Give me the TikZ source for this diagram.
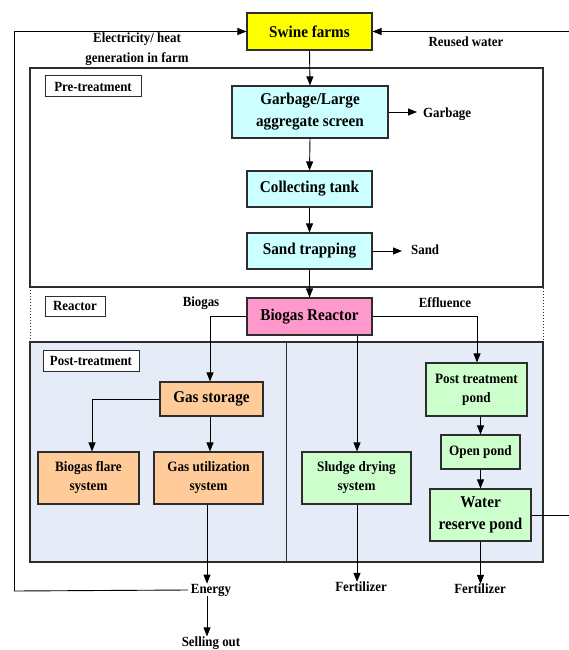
\documentclass[tikz,border=0pt]{standalone}
\usepackage{fontspec}
\setmainfont{Liberation Serif}[FakeStretch=0.92]
\usetikzlibrary{arrows.meta}
\definecolor{boxline}{RGB}{45,45,45}
\definecolor{swinefill}{RGB}{255,255,0}
\definecolor{cyanfill}{RGB}{204,255,255}
\definecolor{pinkfill}{RGB}{255,153,204}
\definecolor{orangefill}{RGB}{255,204,153}
\definecolor{greenfill}{RGB}{204,255,204}
\definecolor{postbg}{RGB}{230,236,247}
\begin{document}
\begin{tikzpicture}[x=1pt,y=-1pt,
  big/.style={font=\fontsize{16.5}{22}\selectfont\bfseries},
  small/.style={font=\fontsize{14.3}{19}\selectfont\bfseries},
  lbl/.style={font=\fontsize{14}{20}\selectfont\bfseries, inner sep=0pt, align=center},
  box/.style={draw=boxline, line width=1.1pt, inner sep=0pt, align=center},
  regionlbl/.style={draw=boxline, fill=white, line width=1pt, inner sep=0pt, font=\fontsize{14}{18}\selectfont\bfseries},
  region/.style={draw=boxline, line width=1.1pt},
  conn/.style={line width=0.9pt, black},
  arr/.style={conn, -{Triangle[length=9pt,width=7pt]}}
]
\useasboundingbox (0,0) rectangle (568,650);
\fill[white] (0,0) rectangle (568,650);

% regions
\draw[region] (30,68) rectangle (543,287);
\draw[boxline, line width=1pt, dotted] (30,287) rectangle (543,342);
\draw[region, fill=postbg] (30,342) rectangle (543,562);
\draw[boxline, line width=0.9pt] (286,342) -- (286,562);

\node[regionlbl, minimum width=96pt, minimum height=21pt] (prelbl) at (93,86.5) {Pre-treatment};
\node[regionlbl, minimum width=60pt, minimum height=20pt] (reaclbl) at (75,306) {Reactor};
\node[regionlbl, minimum width=96pt, minimum height=21pt] (postlbl) at (91,360.5) {Post-treatment};

% main boxes
\node[box, big, fill=swinefill, minimum width=125pt, minimum height=37pt] (swine) at (309.5,31.5) {Swine farms};
\node[box, big, fill=cyanfill, minimum width=156pt, minimum height=52pt] (garb) at (310,112) {Garbage/Large\\aggregate screen};
\node[box, big, fill=cyanfill, minimum width=125pt, minimum height=36pt] (coll) at (309.5,189) {Collecting tank};
\node[box, big, fill=cyanfill, minimum width=125pt, minimum height=36pt] (sand) at (309.5,251) {Sand trapping};
\node[box, big, fill=pinkfill, minimum width=125pt, minimum height=37pt] (reac) at (309.5,316.5) {Biogas Reactor};
\node[box, big, fill=orangefill, minimum width=103pt, minimum height=34pt] (gst) at (211.5,399) {Gas storage};
\node[box, small, fill=orangefill, minimum width=101pt, minimum height=52pt] (flare) at (88.5,478) {Biogas flare\\system};
\node[box, small, fill=orangefill, minimum width=109pt, minimum height=52pt] (util) at (208.5,478) {Gas utilization\\system};
\node[box, small, fill=greenfill, minimum width=109pt, minimum height=52pt] (sludge) at (356.5,478) {Sludge drying\\system};
\node[box, small, fill=greenfill, minimum width=101pt, minimum height=53pt] (ptp) at (476.5,389.5) {Post treatment\\pond};
\node[box, small, fill=greenfill, minimum width=79pt, minimum height=34pt] (open) at (480.5,452) {Open pond};
\node[box, big, fill=greenfill, minimum width=101pt, minimum height=52pt] (wrp) at (480.5,515) {Water\\reserve pond};

% text labels
\node[lbl] (elec) at (137,49) {Electricity/ heat\\generation in farm};
\node[lbl] (reused) at (466,42) {Reused water};
\node[lbl, anchor=west] (garbout) at (423,114) {Garbage};
\node[lbl, anchor=west] (sandout) at (411,250) {Sand};
\node[lbl] (biogaslbl) at (201,303) {Biogas};
\node[lbl] (efflbl) at (445,303) {Effluence};
\node[lbl] (energy) at (211,590) {Energy};
\node[lbl] (sell) at (211,643) {Selling out};
\node[lbl] (fert1) at (361,587) {Fertilizer};
\node[lbl] (fert2) at (480,589) {Fertilizer};

\coordinate (garbend) at (417,112);
\coordinate (sandend) at (402,251);
\coordinate (leftup) at (14.5,591);
\coordinate (lefttop) at (14.5,31.5);
\coordinate (rightdown) at (572,515);
\coordinate (righttop) at (572,31.5);

% connectors
\draw[arr] (swine.south) -- (garb.north);
\draw[arr] (garb.south) -- (coll.north);
\draw[arr] (coll.south) -- (sand.north);
\draw[arr] (sand.south) -- (reac.north);
\draw[arr] (garb.east) -- (garbend);
\draw[arr] (sand.east) -- (sandend);
\draw[arr] (reac.west) -| ([xshift=-1.5pt]gst.north);
\draw[arr] (reac.east) -| ([xshift=0.5pt]ptp.north);
\draw[arr] ([xshift=47.5pt]reac.south) -- ([xshift=0.5pt]sludge.north);
\draw[arr] (gst.west) -| ([xshift=3.5pt]flare.north);
\draw[arr] ([xshift=-1.5pt]gst.south) -- ([xshift=1.5pt]util.north);
\draw[arr] ([xshift=-1.5pt]util.south) -- ([xshift=-4pt]energy.north);
\draw[arr] ([xshift=-4pt]energy.south) -- ([xshift=-4pt]sell.north);
\draw[arr] ([xshift=0.5pt]sludge.south) -- ([xshift=-4pt]fert1.north);
\draw[arr] ([xshift=4pt]ptp.south) -- (open.north);
\draw[arr] (open.south) -- (wrp.north);
\draw[arr] (wrp.south) -- ([xshift=0.5pt]fert2.north);
\draw[arr] ([xshift=-3pt]energy.west) -- (leftup) -- (lefttop) -- (swine.west);
\draw[arr] (wrp.east) -- (rightdown) -- (righttop) -- (swine.east);
\end{tikzpicture}
\end{document}
